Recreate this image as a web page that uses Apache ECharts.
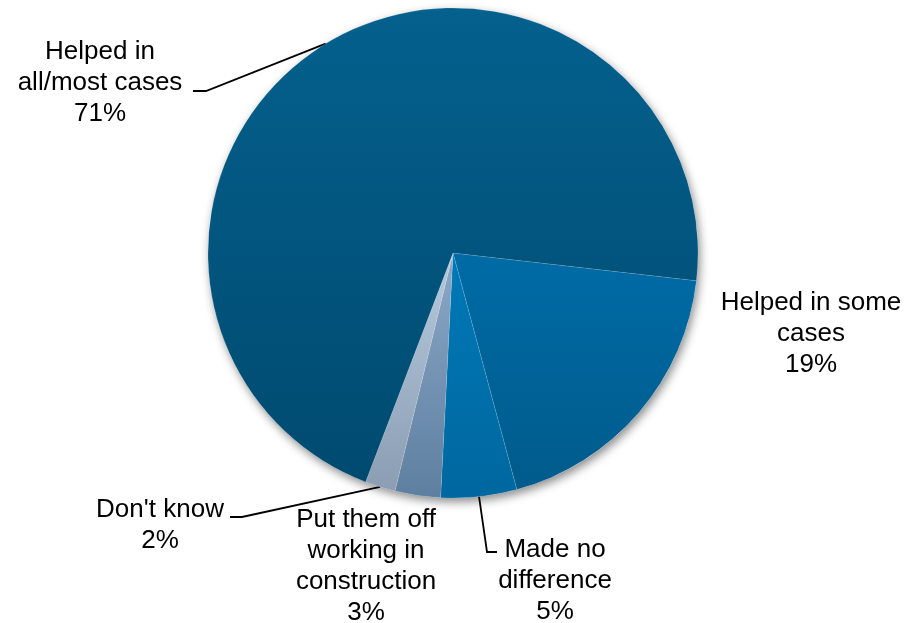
<!DOCTYPE html>
<html>
<head>
<meta charset="utf-8">
<script src="https://cdn.jsdelivr.net/npm/echarts@6/dist/echarts.min.js"></script>
<style>
  html, body { margin: 0; padding: 0; background: #fff; }
  #chart { width: 906px; height: 623px; }
</style>
</head>
<body>
<div id="chart"></div>
<script>
// Slice labels (wrapped as displayed) and their percentages, in clockwise order
const categories = [
  'Helped in some\ncases',
  'Made no\ndifference',
  'Put them off\nworking in\nconstruction',
  "Don't know",
  'Helped in\nall/most cases'
];
const values = [19, 5, 3, 2, 71];

// Vertical gradient stops per slice (top, bottom)
const sliceColors = [
  ['#006ba6', '#005b8b'],
  ['#0079b8', '#00679f'],
  ['#8aa8c8', '#5f7fa0'],
  ['#b7c9dc', '#8a9db3'],
  ['#04608d', '#004a70']
];

// Label anchor (centre of text block) and leader-line bend/end points
const labelAnchors = [
  [811, 334],
  [555, 581],
  [366, 566],
  [160, 525],
  [100, 83]
];
const leaderBends = [
  null,
  [[487, 552], [497, 552]],
  null,
  [[242, 517], [230, 517]],
  [[206, 91], [193, 91]]
];

const total = values.reduce((a, b) => a + b, 0);
const center = [453, 253];
const radius = 245;

const chart = echarts.init(document.getElementById('chart'), null, { renderer: 'canvas' });

const data = categories.map((name, i) => ({
  name: name,
  value: values[i],
  itemStyle: {
    color: new echarts.graphic.LinearGradient(0, 0, 0, 1, [
      { offset: 0, color: sliceColors[i][0] },
      { offset: 1, color: sliceColors[i][1] }
    ])
  },
  labelLine: { show: leaderBends[i] !== null }
}));

chart.setOption({
  animation: false,
  backgroundColor: '#ffffff',
  series: [
    {
      // soft drop shadow beneath the whole pie
      type: 'pie',
      silent: true,
      center: center,
      radius: radius,
      z: 1,
      label: { show: false },
      labelLine: { show: false },
      itemStyle: {
        color: '#ffffff',
        shadowColor: 'rgba(0,0,0,0.45)',
        shadowBlur: 10,
        shadowOffsetX: 2,
        shadowOffsetY: 4
      },
      data: [{ name: 'total', value: total }]
    },
    {
      type: 'pie',
      center: center,
      radius: radius,
      startAngle: -6.5,
      clockwise: true,
      z: 2,
      avoidLabelOverlap: false,
      itemStyle: {
        borderColor: 'rgba(255,255,255,0.18)',
        borderWidth: 0.6
      },
      label: {
        show: true,
        position: 'outside',
        formatter: '{b}\n{c}%',
        fontFamily: '"Liberation Sans", Arial, sans-serif',
        fontSize: 26,
        lineHeight: 31,
        color: '#000000',
        align: 'center'
      },
      labelLine: {
        lineStyle: { color: '#000000', width: 1.8 }
      },
      labelLayout: function (params) {
        const i = params.dataIndex;
        const out = {
          x: labelAnchors[i][0],
          y: labelAnchors[i][1],
          align: 'center',
          verticalAlign: 'middle',
          hideOverlap: false
        };
        if (leaderBends[i] && params.labelLinePoints) {
          out.labelLinePoints = [params.labelLinePoints[0]].concat(leaderBends[i]);
        }
        return out;
      },
      emphasis: { disabled: true },
      data: data
    }
  ]
});
</script>
</body>
</html>
